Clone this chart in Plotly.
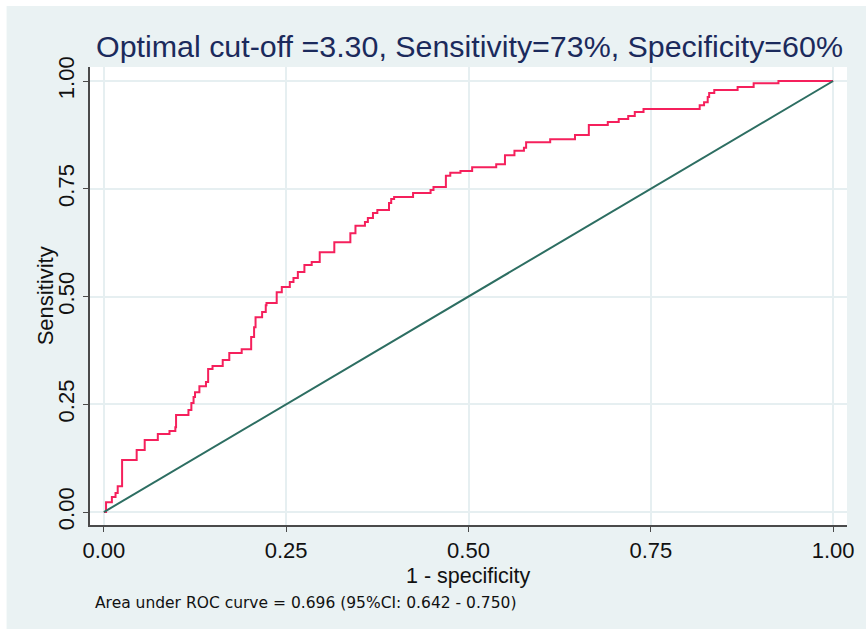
import plotly.graph_objects as go

# ROC curve points (1 - specificity, sensitivity), step curve
fpr = [0.000, 0.003, 0.011, 0.016, 0.019, 0.025, 0.045, 0.056, 0.074, 0.090,
       0.098, 0.099, 0.116, 0.120, 0.123, 0.125, 0.131, 0.140, 0.143, 0.149,
       0.163, 0.172, 0.189, 0.202, 0.206, 0.208, 0.217, 0.222, 0.223, 0.237,
       0.244, 0.255, 0.260, 0.266, 0.275, 0.285, 0.296, 0.316, 0.338, 0.345,
       0.358, 0.362, 0.369, 0.375, 0.391, 0.394, 0.398, 0.424, 0.448, 0.452,
       0.469, 0.475, 0.489, 0.505, 0.538, 0.550, 0.563, 0.576, 0.579, 0.612,
       0.646, 0.665, 0.691, 0.706, 0.719, 0.728, 0.740, 0.817, 0.823, 0.828,
       0.830, 0.837, 0.869, 0.891, 0.925, 1.000]
tpr = [0.000, 0.023, 0.035, 0.044, 0.060, 0.121, 0.144, 0.167, 0.181, 0.188,
       0.197, 0.225, 0.237, 0.253, 0.267, 0.278, 0.292, 0.302, 0.332, 0.339,
       0.353, 0.369, 0.378, 0.406, 0.429, 0.452, 0.464, 0.480, 0.485, 0.510,
       0.522, 0.534, 0.543, 0.557, 0.573, 0.580, 0.603, 0.626, 0.647, 0.664,
       0.673, 0.682, 0.694, 0.701, 0.717, 0.726, 0.731, 0.740, 0.747, 0.754,
       0.780, 0.787, 0.791, 0.800, 0.807, 0.828, 0.838, 0.845, 0.858, 0.865,
       0.875, 0.898, 0.905, 0.912, 0.919, 0.928, 0.935, 0.944, 0.951, 0.963,
       0.972, 0.979, 0.986, 0.995, 1.000, 1.000]

ref_x = [0, 1]
ref_y = [0, 1]

tick_vals = [0, 0.25, 0.5, 0.75, 1.0]
tick_text = ["0.00", "0.25", "0.50", "0.75", "1.00"]

title_text = "Optimal cut-off =3.30, Sensitivity=73%, Specificity=60%"
x_title = "1 - specificity"
y_title = "Sensitivity"
note_text = "Area under ROC curve = 0.696 (95%CI: 0.642 - 0.750)"

FONT = "Liberation Sans, Arial, Helvetica, sans-serif"
NOTE_FONT = "DejaVu Sans, Liberation Sans, sans-serif"
BG = "#eaf2f3"
GRID = "#e6eff1"
PINK = "#f5205c"
TEAL = "#2d6e62"
AXIS = "#4a4a4a"

fig = go.Figure()
fig.add_trace(go.Scatter(x=fpr, y=tpr, mode="lines", line_shape="hv",
                         line=dict(color=PINK, width=2), hoverinfo="skip"))
fig.add_trace(go.Scatter(x=ref_x, y=ref_y, mode="lines",
                         line=dict(color=TEAL, width=2), hoverinfo="skip"))

axis_common = dict(
    tickvals=tick_vals, ticktext=tick_text, showgrid=True, gridcolor=GRID,
    gridwidth=1.5, zeroline=False, showline=True, linecolor=AXIS, linewidth=1.5,
    ticks="outside", ticklen=5, tickwidth=1.3, tickcolor=AXIS,
    tickfont=dict(family=FONT, size=22, color="#111111"),
)

fig.update_layout(
    width=866, height=629,
    margin=dict(l=90, r=14, t=67, b=104, pad=0),
    paper_bgcolor="white", plot_bgcolor="rgba(0,0,0,0)",
    showlegend=False,
    xaxis=dict(range=[-0.019, 1.019], **axis_common),
    yaxis=dict(range=[-0.030, 1.0325], tickangle=-90, **axis_common),
    shapes=[
        dict(type="rect", xref="paper", yref="paper", x0=-0.1102, x1=1.03,
             y0=-0.25, y1=1.1332, fillcolor=BG, line_width=0, layer="below"),
        dict(type="rect", xref="paper", yref="paper", x0=0, x1=1, y0=0, y1=1,
             fillcolor="white", line_width=0, layer="below"),
    ],
    annotations=[
        dict(text=title_text, xref="paper", yref="paper", x=0.501, y=1.0459,
             xanchor="center", yanchor="middle", showarrow=False,
             font=dict(family=FONT, size=30.4, color="#1b2a5c")),
        dict(text=y_title, xref="paper", yref="paper", x=-0.059, y=0.5,
             xanchor="center", yanchor="middle", textangle=-90, showarrow=False,
             font=dict(family=FONT, size=22, color="#111111")),
        dict(text=x_title, xref="paper", yref="paper", x=0.5, y=-0.1114,
             xanchor="center", yanchor="middle", showarrow=False,
             font=dict(family=FONT, size=21.5, color="#111111")),
        dict(text=note_text, xref="paper", yref="paper", x=0.0039, y=-0.1703,
             xanchor="left", yanchor="middle", showarrow=False,
             font=dict(family=NOTE_FONT, size=15.5, color="#111111")),
    ],
)

fig.write_html("out.html", config={"displayModeBar": False},
               post_script="document.body.style.margin='0';document.body.style.overflow='hidden';")
